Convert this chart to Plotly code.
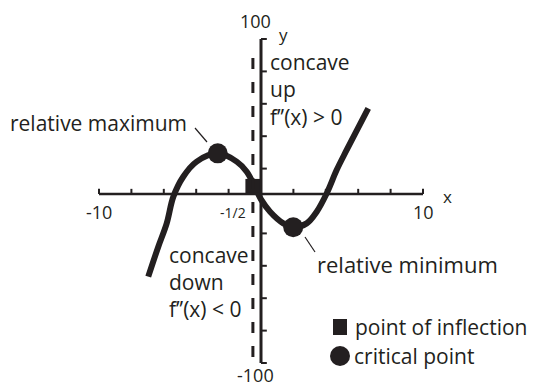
import plotly.graph_objects as go

INK = "#231f20"
FONT = "Open Sans, Liberation Sans, sans-serif"
W, H = 534, 387

# Sketch of f(x): points along the drawn curve
curve_x = [-6.96, -6.34, -5.82, -5.41, -4.80, -3.97, -2.67, -1.50, -0.88, -0.37,
           0.00, 0.56, 1.38, 1.99, 2.82, 3.44, 4.06, 4.67, 5.29, 6.62]
curve_y = [-46.7, -28.2, -13.8, 2.7, 15.0, 24.3, 29.4, 24.3, 18.1, 8.5,
           1.0, -6.6, -13.8, -16.2, -13.8, -6.6, 4.8, 19.1, 31.5, 57.2]

# Critical points (relative maximum, relative minimum)
crit_x = [-2.67, 1.99]
crit_y = [29.4, -16.2]

# Point of inflection at x = -1/2
infl_x = [-0.5]
infl_y = [9.0]

# Axes
x_ticks = [-10, -8, -6, -4, -2, 0, 2, 4, 6, 8, 10]
y_ticks = [-100, -80, -60, -40, -20, 20, 40, 60, 80, 100]
x_axis_level = 4.3
x_tick_text = {-10: "-10", 10: "10"}
y_tick_text = {100: "100", -100: "-100"}
dash_x = -0.5
dash_span = [-96.3, 96.3]

X_RANGE = [-16.111, 16.852]
Y_RANGE = [-114.81, 124.07]

fig = go.Figure()

fig.add_trace(go.Scatter(
    x=curve_x, y=curve_y, mode="lines",
    line=dict(color=INK, width=6, shape="spline", smoothing=1.0),
    hoverinfo="skip", showlegend=False))

fig.add_trace(go.Scatter(
    x=crit_x, y=crit_y, mode="markers",
    marker=dict(symbol="circle", size=20, color=INK, line=dict(width=0)),
    showlegend=False))

fig.add_trace(go.Scatter(
    x=infl_x, y=infl_y, mode="markers",
    marker=dict(symbol="square", size=15, color=INK, line=dict(width=0)),
    showlegend=False))

shapes = []
# horizontal axis
shapes.append(dict(type="line", x0=x_ticks[0], x1=x_ticks[-1], y0=x_axis_level, y1=x_axis_level,
                   line=dict(color=INK, width=2.5)))
for t in x_ticks:
    shapes.append(dict(type="line", x0=t, x1=t, y0=x_axis_level, y1=x_axis_level + 3.2,
                       line=dict(color=INK, width=2)))
# vertical axis
shapes.append(dict(type="line", x0=0, x1=0, y0=y_ticks[0], y1=y_ticks[-1],
                   line=dict(color=INK, width=3)))
for t in y_ticks:
    shapes.append(dict(type="line", x0=0, x1=0.36, y0=t, y1=t,
                       line=dict(color=INK, width=2)))
# dashed line through the inflection point
shapes.append(dict(type="line", x0=dash_x, x1=dash_x, y0=dash_span[0], y1=dash_span[1],
                   line=dict(color=INK, width=3, dash="11px,13px")))
# leader lines
shapes.append(dict(type="line", xref="paper", yref="paper",
                   x0=195 / W, y0=1 - 128 / H, x1=207 / W, y1=1 - 142 / H,
                   line=dict(color=INK, width=1.2)))
shapes.append(dict(type="line", xref="paper", yref="paper",
                   x0=305 / W, y0=1 - 237 / H, x1=315 / W, y1=1 - 252 / H,
                   line=dict(color=INK, width=1.2)))

annotations = []


def label(text, px, py, size=21, anchor="left"):
    annotations.append(dict(
        text=text, x=px / W, y=1 - py / H, xref="paper", yref="paper",
        xanchor=anchor, yanchor="middle", showarrow=False,
        font=dict(family=FONT, size=size, color=INK)))


# tick labels in data coordinates
for t, s in x_tick_text.items():
    annotations.append(dict(text=s, x=t, y=x_axis_level, xref="x", yref="y",
                            xanchor="center", yanchor="middle", yshift=-18, showarrow=False,
                            font=dict(family=FONT, size=18, color=INK)))
for t, s in y_tick_text.items():
    annotations.append(dict(text=s, x=0, y=t, xref="x", yref="y",
                            xanchor="center", yanchor="middle", xshift=-6,
                            yshift=18 if t > 0 else -12, showarrow=False,
                            font=dict(family=FONT, size=18, color=INK)))
annotations.append(dict(text="-1/2", x=dash_x, y=x_axis_level, xref="x", yref="y",
                        xanchor="right", yanchor="middle", xshift=-5, yshift=-18,
                        showarrow=False, font=dict(family=FONT, size=14, color=INK)))

label("y", 283, 35, size=17, anchor="center")
label("x", 447, 196, size=17, anchor="center")

label("concave", 268, 62)
label("up", 268, 89)
label("f’’(x) > 0", 268, 117)

label("concave", 167, 255)
label("down", 167, 282)
label("f’’(x) < 0", 167, 309)

label("relative maximum", 8, 123)
label("relative minimum", 315, 264, size=22)

label("point of inflection", 353, 327)
label("critical point", 352, 356)

# legend glyphs
shapes.append(dict(type="rect", xref="paper", yref="paper",
                   x0=333 / W, x1=347 / W, y0=1 - 335 / H, y1=1 - 319 / H,
                   fillcolor=INK, line=dict(width=0)))
shapes.append(dict(type="circle", xref="paper", yref="paper",
                   x0=330 / W, x1=350 / W, y0=1 - 366 / H, y1=1 - 346 / H,
                   fillcolor=INK, line=dict(width=0)))

fig.update_layout(
    width=W, height=H,
    margin=dict(l=0, r=0, t=0, b=0),
    paper_bgcolor="white", plot_bgcolor="white",
    xaxis=dict(range=X_RANGE, visible=False, fixedrange=True),
    yaxis=dict(range=Y_RANGE, visible=False, fixedrange=True),
    shapes=shapes, annotations=annotations,
    showlegend=False,
)

fig.write_html("out.html")
